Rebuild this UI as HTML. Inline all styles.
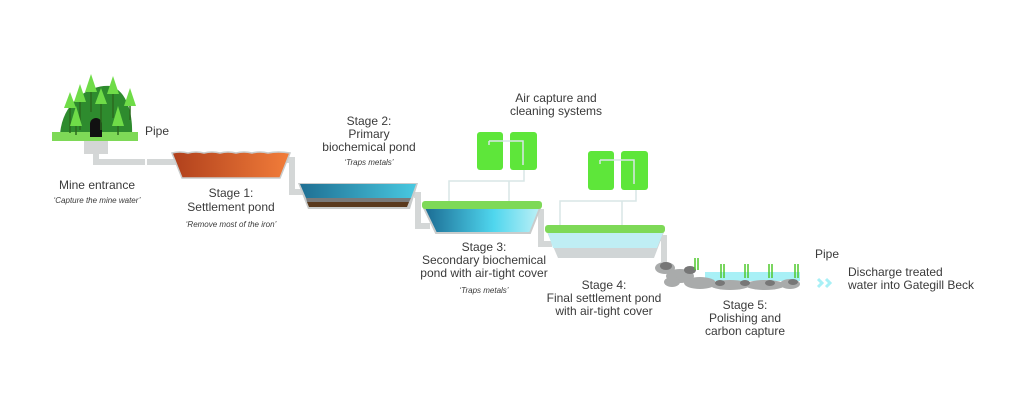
<!DOCTYPE html>
<html><head><style>body{margin:0;background:#fff}svg{display:block}text{font-family:"Liberation Sans",sans-serif;fill:#3a3a3a;font-size:12px}.i{font-style:italic;font-size:8px}</style></head><body>
<svg width="1024" height="412" viewBox="0 0 1024 412">
<defs>
<linearGradient id="o" x1="0" x2="1"><stop offset="0" stop-color="#b0401c"/><stop offset="1" stop-color="#f27d3a"/></linearGradient>
<linearGradient id="b" x1="0" x2="1"><stop offset="0" stop-color="#1f6f93"/><stop offset="1" stop-color="#48c8e0"/></linearGradient>
<linearGradient id="c" x1="0" x2="1"><stop offset="0" stop-color="#1a6a92"/><stop offset=".6" stop-color="#4fd6ee"/><stop offset="1" stop-color="#bdf0f6"/></linearGradient>
</defs>
<g fill="none" stroke="#d4d7d7" stroke-width="6">
<path d="M96 150 V162 H176"/>
<path d="M287 160 H292 V192 H304"/>
<path d="M414 195 H418 V226 H430"/>
<path d="M538 212 H541 V244 H552"/>
<path d="M660 238 H664 V262"/>
</g>
<g stroke="#fff" stroke-width="2"><line x1="146" y1="158" x2="146" y2="166"/></g>
<!-- mine -->
<path d="M60 135 C62 100 92 84 110 86 C126 90 133 112 132 135 Z" fill="#2e8b2e"/>
<rect x="52" y="132" width="86" height="9" fill="#7ed957"/>
<path d="M90 137 V124 a6 6 0 0 1 12 0 V137 Z" fill="#111"/>
<g stroke="#2b6b1e" stroke-width="1.5"><path d="M70 133 V100 M80 130 V92 M91 112 V82 M101 130 V95 M113 118 V82 M130 120 V95 M118 135 V110 M76 135 V115"/></g>
<g fill="#6fdc48">
<path d="M64 108 l6 -16 6 16z"/><path d="M74 102 l6 -18 6 18z"/><path d="M85 92 l6 -18 6 18z"/><path d="M95 104 l6 -16 6 16z"/><path d="M107 94 l6 -18 6 18z"/><path d="M124 106 l6 -18 6 18z"/><path d="M112 126 l6 -20 6 20z"/><path d="M70 126 l6 -20 6 20z"/>
</g>
<rect x="84" y="141" width="24" height="13" fill="#d4d6d6"/>
<!-- pond1 -->
<path d="M172 153 Q180 151 188 153 Q196 151 204 153 Q212 151 220 153 Q228 151 236 153 Q244 151 252 153 Q260 151 268 153 Q278 151 290 153 L280 178 H182 Z" fill="url(#o)" stroke="#c9cccc" stroke-width="1.5"/>
<!-- pond2 -->
<path d="M298 183 H418 L410 209 H308 Z" fill="#c9cccc"/>
<path d="M300 184 H416 L411 198 H306 Z" fill="url(#b)"/>
<path d="M306 198 H411 L409 202 H307Z" fill="#7a7a7a"/>
<path d="M307 202 H409 L407 207 H309Z" fill="#5a3a1e"/>
<!-- pond3 -->
<path d="M424 208 H540 L530 233 H436 Z" fill="url(#c)" stroke="#c9cccc" stroke-width="2"/>
<rect x="422" y="201" width="120" height="8" rx="3" fill="#7ed957"/>
<!-- pond4 -->
<path d="M547 232 H664 L654 258 H558 Z" fill="#d0d5d6"/>
<path d="M548 233 H663 L657 248 H553 Z" fill="#bfeef4"/>
<rect x="545" y="225" width="120" height="8" rx="3" fill="#7ed957"/>
<!-- air boxes -->
<g fill="#5ee63a"><rect x="477" y="132" width="26" height="38" rx="3"/><rect x="510" y="132" width="27" height="38" rx="3"/><rect x="588" y="151" width="26" height="39" rx="3"/><rect x="621" y="151" width="27" height="39" rx="3"/></g>
<g fill="none" stroke="#d8e6e6" stroke-width="1.5">
<path d="M449 201 V181 H524 V170 M509 201 V181 M489 145 V141 M489 141 H523 V165"/>
<path d="M560 225 V201 H636 V190 M622 225 V201 M600 164 V160 M600 160 H634 V184"/>
</g>
<!-- stage5 rocks -->
<rect x="705" y="272" width="95" height="9" fill="#a8f0f6"/>
<g fill="#a9abab"><ellipse cx="665" cy="268" rx="10" ry="6"/><ellipse cx="680" cy="276" rx="14" ry="7"/><ellipse cx="700" cy="283" rx="16" ry="6"/><ellipse cx="730" cy="285" rx="20" ry="5"/><ellipse cx="765" cy="285" rx="20" ry="5"/><ellipse cx="790" cy="284" rx="10" ry="5"/><ellipse cx="672" cy="282" rx="8" ry="5"/></g>
<g fill="#777"><ellipse cx="666" cy="266" rx="6" ry="4"/><ellipse cx="690" cy="270" rx="6" ry="4"/><ellipse cx="720" cy="283" rx="5" ry="3"/><ellipse cx="745" cy="283" rx="5" ry="3"/><ellipse cx="770" cy="283" rx="5" ry="3"/><ellipse cx="793" cy="282" rx="5" ry="3"/></g>
<g stroke="#4fc82c" stroke-width="1.5"><path d="M695 270 v-12 M698 270 v-12 M721 278v-14 M724 278 v-14 M745 278v-14 M748 278v-14 M769 278v-14 M772 278v-14 M795 278v-14 M798 278v-14"/></g>
<g fill="none" stroke="#a8f0f6" stroke-width="3"><path d="M818 279 l4 4 -4 4 M826 279 l4 4 -4 4"/></g>
<!-- text -->
<text x="145" y="135">Pipe</text>
<g text-anchor="middle">
<text x="97" y="189">Mine entrance</text><text class="i" x="97" y="203">‘Capture the mine water’</text>
<text x="231" y="197">Stage 1:</text><text x="231" y="211">Settlement pond</text><text class="i" x="231" y="227">‘Remove most of the iron’</text>
<text x="369" y="125">Stage 2:</text><text x="369" y="138">Primary</text><text x="369" y="151">biochemical pond</text><text class="i" x="369" y="165">‘Traps metals’</text>
<text x="556" y="102">Air capture and</text><text x="556" y="115">cleaning systems</text>
<text x="484" y="251">Stage 3:</text><text x="484" y="264">Secondary biochemical</text><text x="484" y="277">pond with air-tight cover</text><text class="i" x="484" y="293">‘Traps metals’</text>
<text x="604" y="289">Stage 4:</text><text x="604" y="302">Final settlement pond</text><text x="604" y="315">with air-tight cover</text>
<text x="745" y="309">Stage 5:</text><text x="745" y="322">Polishing and</text><text x="745" y="335">carbon capture</text>
</g>
<text x="815" y="258">Pipe</text>
<text x="848" y="276">Discharge treated</text><text x="848" y="289">water into Gategill Beck</text>
</svg></body></html>
